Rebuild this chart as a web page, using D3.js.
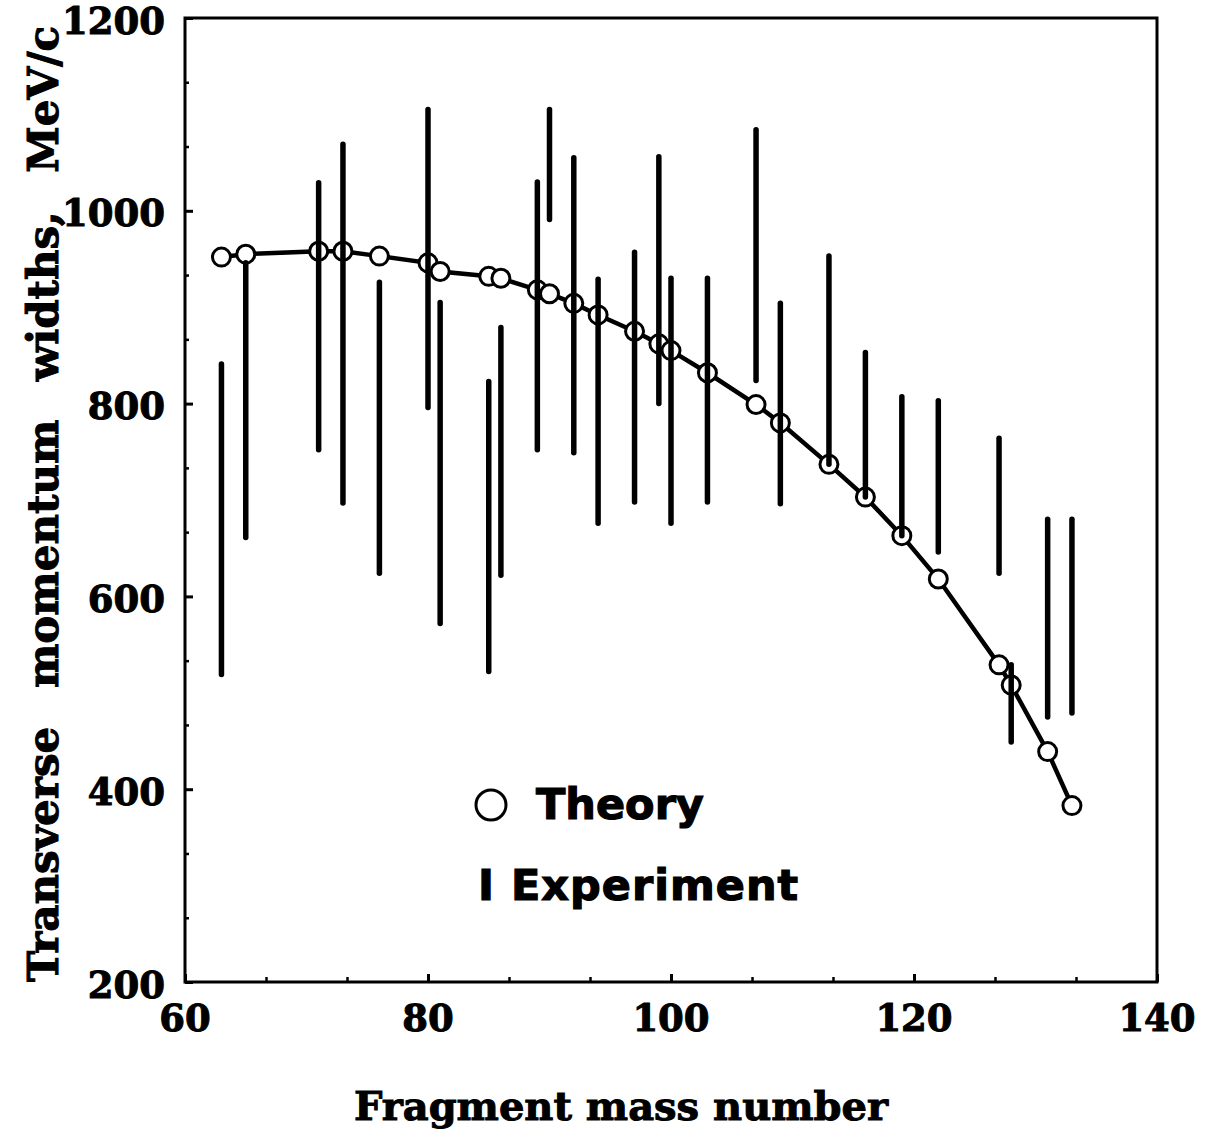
<!DOCTYPE html>
<html>
<head>
<meta charset="utf-8">
<script src="https://cdn.jsdelivr.net/npm/d3@7"></script>
<style>
  html, body { margin: 0; padding: 0; background: #fff; }
  svg { display: block; }
</style>
</head>
<body>
<svg id="chart" width="1211" height="1133"></svg>
<script>
// ---- data ----
const massNumbers  = [63, 65, 71, 73, 76, 80, 81, 85, 86, 89, 90, 92, 94, 97, 99, 100, 103, 107, 109, 113, 116, 119, 122, 127, 128, 131, 133];
const theoryWidths = [952, 955, 958, 958, 953, 946, 937, 932, 930, 918, 914, 904, 892, 875, 862, 855, 832, 799, 780, 737, 703, 663, 618, 529, 508, 439, 383];
const expHigh      = [841, 946, 1029, 1069, 926, 1105, 905, 823, 879, 1030, 1105, 1055, 929, 957, 1056, 930, 930, 1084, 904, 953, 853, 807, 803, 764, 529, 680, 680];
const expLow       = [519, 661, 752, 697, 624, 796, 572, 522, 622, 752, 991, 749, 676, 698, 800, 676, 698, 824, 696, 737, 703, 663, 646, 624, 449, 475, 479];
const xTickLabels  = [60, 80, 100, 120, 140];
const yTickLabels  = [200, 400, 600, 800, 1000, 1200];
const xTitle = "Fragment mass number";
const yTitle = "Transverse momentum widths, MeV/c";
const legendTheory = "Theory";
const legendExp = "I Experiment";

// ---- layout ----
const svg = d3.select("#chart");
const L = 185, R = 1157, T = 18, B = 982;
const x = d3.scaleLinear().domain([60, 140]).range([L, R]);
const y = d3.scaleLinear().domain([200, 1200]).range([B, T]);
const serif = "'DejaVu Serif', serif";
const sans = "'DejaVu Sans', sans-serif";

// frame
svg.append("rect").attr("x", L).attr("y", T).attr("width", R - L).attr("height", B - T)
  .attr("fill", "none").attr("stroke", "#000").attr("stroke-width", 3);

// y axis (ticks inward)
const yMinor = d3.range(200, 1200.1, 200 / 3).filter(v => !yTickLabels.some(t => Math.abs(t - v) < 1));
const gy = svg.append("g").attr("transform", `translate(${L},0)`)
  .call(d3.axisRight(y).tickValues(yTickLabels).tickSize(8).tickFormat(""));
gy.select(".domain").remove();
gy.selectAll("line").attr("stroke-width", 3);
svg.append("g").attr("transform", `translate(${L},0)`)
  .call(d3.axisRight(y).tickValues(yMinor).tickSize(4).tickFormat(""))
  .call(g => g.select(".domain").remove())
  .selectAll("line").attr("stroke-width", 2.5);
svg.append("g").selectAll("text").data(yTickLabels).join("text")
  .attr("x", 165).attr("y", d => y(d) + 6)
  .attr("text-anchor", "end").attr("dominant-baseline", "middle")
  .attr("font-family", serif).attr("font-weight", "bold").attr("font-size", 37)
  .attr("stroke", "#000").attr("stroke-width", 1)
  .text(d => d);

// x axis (ticks inward)
const xMinor = d3.range(60, 140.1, 20 / 3).filter(v => !xTickLabels.some(t => Math.abs(t - v) < 1));
const gx = svg.append("g").attr("transform", `translate(0,${B})`)
  .call(d3.axisTop(x).tickValues(xTickLabels).tickSize(8).tickFormat(""));
gx.select(".domain").remove();
gx.selectAll("line").attr("stroke-width", 3);
svg.append("g").attr("transform", `translate(0,${B})`)
  .call(d3.axisTop(x).tickValues(xMinor).tickSize(5).tickFormat(""))
  .call(g => g.select(".domain").remove())
  .selectAll("line").attr("stroke-width", 2.5);
svg.append("g").selectAll("text").data(xTickLabels).join("text")
  .attr("x", d => x(d)).attr("y", 1021)
  .attr("text-anchor", "middle").attr("dominant-baseline", "middle")
  .attr("font-family", serif).attr("font-weight", "bold").attr("font-size", 37)
  .attr("stroke", "#000").attr("stroke-width", 1)
  .text(d => d);

// titles
svg.append("text").attr("x", 621).attr("y", 1110)
  .attr("text-anchor", "middle").attr("dominant-baseline", "middle")
  .attr("font-family", serif).attr("font-weight", "bold").attr("font-size", 40)
  .attr("stroke", "#000").attr("stroke-width", 1)
  .text(xTitle);
svg.append("text").attr("transform", `translate(47,504) rotate(-90)`)
  .attr("text-anchor", "middle").attr("dominant-baseline", "middle")
  .attr("font-family", serif).attr("font-weight", "bold").attr("font-size", 42)
  .attr("stroke", "#000").attr("stroke-width", 1)
  .attr("word-spacing", 24)
  .text(yTitle);

// theory line + circles
const pts = massNumbers.map((m, i) => [m, theoryWidths[i]]);
svg.append("path").datum(pts)
  .attr("d", d3.line().x(d => x(d[0])).y(d => y(d[1])))
  .attr("fill", "none").attr("stroke", "#000").attr("stroke-width", 4.5);
svg.append("g").selectAll("circle").data(pts).join("circle")
  .attr("cx", d => x(d[0])).attr("cy", d => y(d[1])).attr("r", 9)
  .attr("fill", "#fff").attr("stroke", "#000").attr("stroke-width", 3);

// experiment bars
svg.append("g").selectAll("line").data(massNumbers).join("line")
  .attr("x1", d => x(d)).attr("x2", d => x(d))
  .attr("y1", (d, i) => y(expHigh[i])).attr("y2", (d, i) => y(expLow[i]))
  .attr("stroke", "#000").attr("stroke-width", 5.5).attr("stroke-linecap", "round");

// legend
svg.append("circle").attr("cx", 491).attr("cy", 805).attr("r", 15)
  .attr("fill", "#fff").attr("stroke", "#000").attr("stroke-width", 3);
svg.append("text").attr("x", 536).attr("y", 807)
  .attr("dominant-baseline", "middle")
  .attr("font-family", sans).attr("font-weight", "bold").attr("font-size", 43)
  .attr("stroke", "#000").attr("stroke-width", 1.2)
  .text(legendTheory);
svg.append("text").attr("x", 478).attr("y", 888)
  .attr("dominant-baseline", "middle")
  .attr("font-family", sans).attr("font-weight", "bold").attr("font-size", 43)
  .attr("stroke", "#000").attr("stroke-width", 1.2)
  .attr("letter-spacing", 1)
  .text(legendExp);
</script>
</body>
</html>
